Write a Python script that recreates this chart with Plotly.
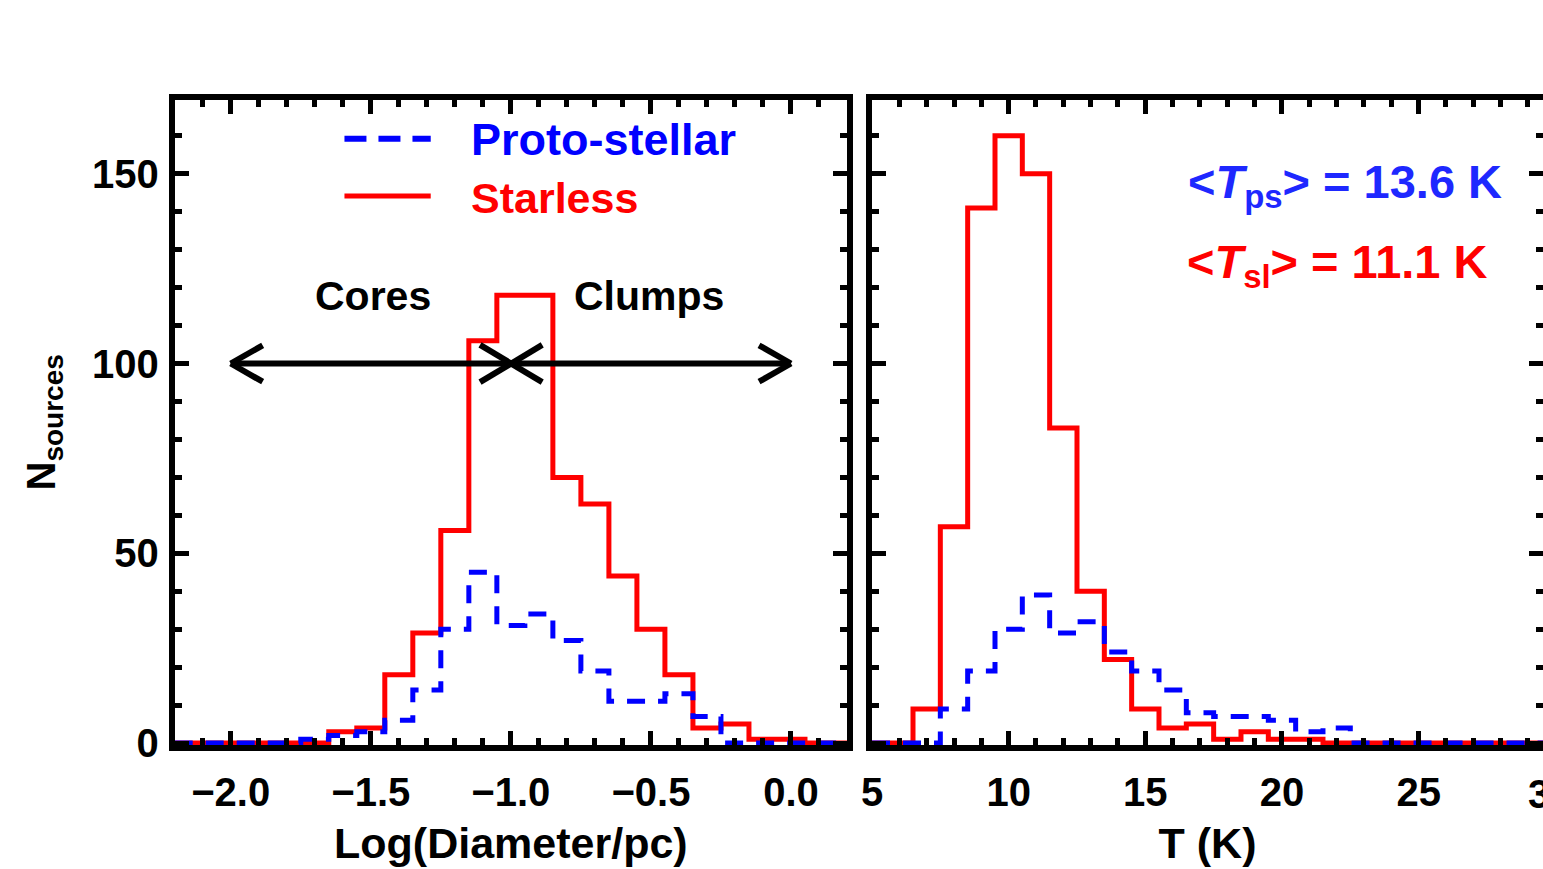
import plotly.graph_objects as go

# ---------------- data ----------------
size_centers = [-2.2, -2.1, -2.0, -1.9, -1.8, -1.7, -1.6, -1.5, -1.4, -1.3, -1.2, -1.1, -1.0,
                -0.9, -0.8, -0.7, -0.6, -0.5, -0.4, -0.3, -0.2, -0.1, 0.0, 0.1, 0.2]
size_starless = [0, 0, 0, 0, 0, 0, 3, 4, 18, 29, 56, 106, 118,
                 118, 70, 63, 44, 30, 18, 4, 5, 1, 1, 0, 0]
size_proto = [0, 0, 0, 0, 0, 1, 2, 3, 6, 14, 30, 45, 31,
              34, 27, 19, 11, 11, 13, 7, 0, 0, 0, 0, 0]

temp_centers = [5, 6, 7, 8, 9, 10, 11, 12, 13, 14, 15, 16, 17, 18, 19, 20,
                21, 22, 23, 24, 25, 26, 27, 28, 29, 30]
temp_starless = [0, 0, 9, 57, 141, 160, 150, 83, 40, 22, 9, 4, 5, 1, 3, 1,
                 1, 0, 0, 0, 0, 0, 0, 0, 0, 0]
temp_proto = [0, 0, 0, 9, 19, 30, 39, 29, 32, 24, 19, 14, 8, 7, 7, 6,
              3, 4, 0, 0, 0, 0, 0, 0, 0, 0]

size_ticks = [-2.0, -1.5, -1.0, -0.5, 0.0]
temp_ticks = [5, 10, 15, 20, 25]
n_ticks = [0, 50, 100, 150]

mean_T_ps = 13.6
mean_T_sl = 11.1

# ---------------- styling ----------------
W, H = 1543, 869
FONT = "Liberation Sans"
RED = "#ff0000"
BLUE = "#0000ff"
LW = 6

fig = go.Figure()

hist_dash = "18px,13px"
fig.add_trace(go.Scatter(x=size_centers, y=size_starless, mode="lines", line_shape="hvh",
                         line=dict(color=RED, width=5), xaxis="x", yaxis="y",
                         name="Starless", showlegend=False))
fig.add_trace(go.Scatter(x=size_centers, y=size_proto, mode="lines", line_shape="hvh",
                         line=dict(color=BLUE, width=5, dash=hist_dash), xaxis="x", yaxis="y",
                         name="Proto-stellar", showlegend=False))
fig.add_trace(go.Scatter(x=temp_centers, y=temp_starless, mode="lines", line_shape="hvh",
                         line=dict(color=RED, width=5), xaxis="x2", yaxis="y2",
                         name="Starless", showlegend=False))
fig.add_trace(go.Scatter(x=temp_centers, y=temp_proto, mode="lines", line_shape="hvh",
                         line=dict(color=BLUE, width=5, dash=hist_dash), xaxis="x2", yaxis="y2",
                         name="Proto-stellar", showlegend=False))

def px_x(p):
    return p / W

def px_y(p):
    return 1 - p / H

common = dict(showline=True, linewidth=LW, linecolor="black", mirror="allticks",
              ticks="inside", ticklen=14, tickwidth=5, tickcolor="black",
              showgrid=False, zeroline=False, automargin=False,
              tickfont=dict(family=FONT, size=40, color="black", weight="bold"))

ydom = [px_y(745), px_y(99.7)]
yrange = [-0.5, 169.5]

fig.update_layout(
    width=W, height=H,
    margin=dict(l=0, r=0, t=0, b=0, autoexpand=False),
    paper_bgcolor="white", plot_bgcolor="white",
    font=dict(family=FONT, weight="bold"),
    xaxis=dict(domain=[px_x(174.7), px_x(847)], range=[-2.2, 0.2], anchor="y",
               tickvals=size_ticks, tickformat=".1f", ticklabelstandoff=7,
               minor=dict(dtick=0.1, tick0=0, ticks="inside", ticklen=7, tickwidth=5, tickcolor="black"),
               title=dict(text="Log(Diameter/pc)", standoff=17,
                          font=dict(family=FONT, size=43, color="black", weight="bold")),
               **common),
    yaxis=dict(domain=ydom, range=yrange, anchor="x", tickvals=n_ticks, ticklabelstandoff=2,
               minor=dict(dtick=10, tick0=0, ticks="inside", ticklen=7, tickwidth=5, tickcolor="black"),
               title=dict(text="N<sub>sources</sub>", standoff=26,
                          font=dict(family=FONT, size=40, color="black", weight="bold")),
               **common),
    xaxis2=dict(domain=[px_x(872), 1.0], range=[5, 29.55], anchor="y2",
                tickvals=temp_ticks, ticklabelstandoff=7,
                minor=dict(dtick=1, tick0=0, ticks="inside", ticklen=7, tickwidth=5, tickcolor="black"),
                title=dict(text="T (K)", standoff=17,
                           font=dict(family=FONT, size=43, color="black", weight="bold")),
                **common),
    yaxis2=dict(domain=ydom, range=yrange, anchor="x2", tickvals=n_ticks,
                showticklabels=False,
                minor=dict(dtick=10, tick0=0, ticks="inside", ticklen=7, tickwidth=5, tickcolor="black"),
                **common),
)

# partially visible "30" tick label at the cut right edge
fig.add_annotation(x=px_x(1550), y=px_y(794), xref="paper", yref="paper", text="30",
                   showarrow=False, xanchor="center", yanchor="middle",
                   font=dict(family=FONT, size=40, color="black", weight="bold"))

# ---- legend (left panel) ----
fig.add_shape(type="line", xref="x", yref="y", x0=-1.594, x1=-1.286, y0=159.2, y1=159.2,
              line=dict(color=BLUE, width=6, dash="22px,12px"))
fig.add_shape(type="line", xref="x", yref="y", x0=-1.594, x1=-1.286, y0=144.1, y1=144.1,
              line=dict(color=RED, width=5))
fig.add_annotation(x=-1.15, y=159.0, xref="x", yref="y", text="Proto-stellar", showarrow=False,
                   xanchor="left", yanchor="middle",
                   font=dict(family=FONT, size=45, color=BLUE, weight="bold"))
fig.add_annotation(x=-1.15, y=143.6, xref="x", yref="y", text="Starless", showarrow=False,
                   xanchor="left", yanchor="middle",
                   font=dict(family=FONT, size=43, color=RED, weight="bold"))

# ---- Cores / Clumps arrow ----
fig.add_annotation(x=-1.705, y=117.8, xref="x", yref="y", text="Cores", showarrow=False,
                   xanchor="left", yanchor="middle",
                   font=dict(family=FONT, size=41, color="black", weight="bold"))
fig.add_annotation(x=-0.783, y=117.8, xref="x", yref="y", text="Clumps", showarrow=False,
                   xanchor="left", yanchor="middle",
                   font=dict(family=FONT, size=41, color="black", weight="bold"))

arrow_y = 100
blk = dict(color="black", width=6)
fig.add_shape(type="line", xref="x", yref="y", x0=-2.0, x1=0.0, y0=arrow_y, y1=arrow_y, line=blk)
for tip, back in [(-2.0, -1.886), (0.0, -0.114)]:
    for dy in (4.8, -4.8):
        fig.add_shape(type="line", xref="x", yref="y", x0=tip, y0=arrow_y, x1=back, y1=arrow_y + dy,
                      line=blk)
for dy in (4.9, -4.9):
    fig.add_shape(type="line", xref="x", yref="y", x0=-1.11, y0=arrow_y - dy, x1=-0.888, y1=arrow_y + dy,
                  line=blk)

# ---- mean temperatures (right panel) ----
fig.add_annotation(x=16.5, y=147.0, xref="x2", yref="y2",
                   text="&lt;<i>T</i><sub>ps</sub>&gt; = %.1f K" % mean_T_ps, showarrow=False,
                   xanchor="left", yanchor="middle",
                   font=dict(family="Liberation Sans", size=47, color="#1e28ff", weight="bold"))
fig.add_annotation(x=16.45, y=126.0, xref="x2", yref="y2",
                   text="&lt;<i>T</i><sub>sl</sub>&gt; = %.1f K" % mean_T_sl, showarrow=False,
                   xanchor="left", yanchor="middle",
                   font=dict(family="Liberation Sans", size=47, color=RED, weight="bold"))

fig.write_html("out.html")
